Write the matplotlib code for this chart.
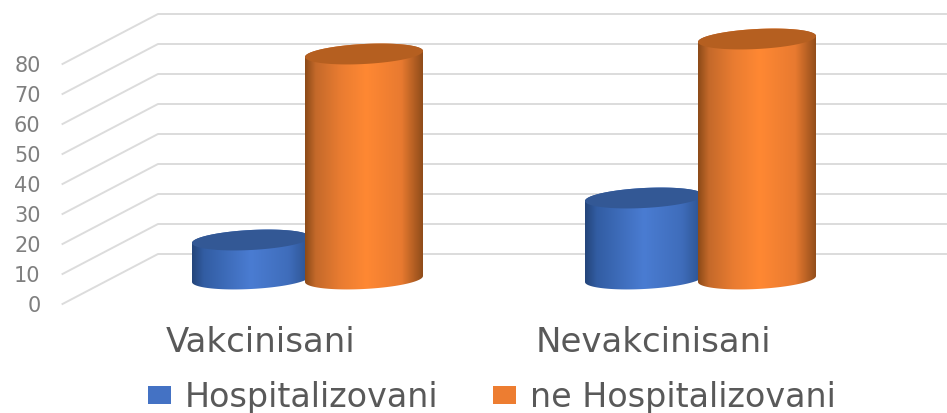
import numpy as np
import matplotlib
matplotlib.use("Agg")
import matplotlib.pyplot as plt
from matplotlib.patches import Patch, PathPatch
from matplotlib.path import Path

# ---------- DATA ----------
categories = ["Vakcinisani", "Nevakcinisani"]
hospitalizovani = [13, 27]
ne_hospitalizovani = [75, 80]
series_names = ["Hospitalizovani", "ne Hospitalizovani"]
y_ticks = [0, 10, 20, 30, 40, 50, 60, 70, 80]

# ---------- SETTINGS ----------
W, H = 947, 414
PX_X = 393.0       # pixels per category step
PX_Y = 3.0         # pixels per value unit
X0_PX = 307.5      # pixel of first category
Y0_PX = 280.0      # pixel of value 0 on the bar base

BAR_OFFSET = 56.5 / PX_X
BAR_A = 59.0 / PX_X    # half width
BAR_B = 10.0 / PX_Y    # ellipse half height
BAR_SHEAR = 3.0 / PX_Y # ellipse tilt

FRONT_X = (62.5 - X0_PX) / PX_X
BACK_X = (158.0 - X0_PX) / PX_X
RIGHT_X = (946.0 - X0_PX) / PX_X
FRONT_DY = -25.0 / PX_Y
BACK_DY = 25.0 / PX_Y

BLUE_STOPS = [(0.0, "#24457a"), (0.1, "#325da3"), (0.5, "#4a7cd2"), (0.82, "#3f6dbb"), (1.0, "#2c5290")]
ORANGE_STOPS = [(0.0, "#8c4a18"), (0.09, "#c4692a"), (0.3, "#e97c31"), (0.52, "#ff8833"), (0.82, "#e87a30"), (1.0, "#8f4c1a")]
BLUE_CAP = "#335895"
ORANGE_CAP = "#b55f20"
BLUE_KEY = "#4472c4"
ORANGE_KEY = "#ed7d31"


def make_gradient(stops):
    pos = [s[0] for s in stops]
    rgb = np.array([matplotlib.colors.to_rgb(s[1]) for s in stops])
    t = np.linspace(0, 1, 256)
    return np.stack([np.interp(t, pos, rgb[:, i]) for i in range(3)], axis=-1)[np.newaxis, :, :]


def ellipse(xc, yc, t):
    return xc + BAR_A * np.cos(t), yc + BAR_SHEAR * np.cos(t) + BAR_B * np.sin(t)


def draw_cylinder(ax, xc, value, stops, cap_color, z):
    # body = lower half of base ellipse + upper half of top ellipse
    bx, by = ellipse(xc, 0, np.linspace(np.pi, 2 * np.pi, 60))
    tx, ty = ellipse(xc, value, np.linspace(0, np.pi, 60))
    verts = np.column_stack([np.r_[bx, tx], np.r_[by, ty]])
    verts = np.vstack([verts, verts[0]])
    body = PathPatch(Path(verts, closed=True), facecolor="none", edgecolor="none",
                     transform=ax.transData)
    ax.add_patch(body)
    img = ax.imshow(make_gradient(stops), aspect="auto", interpolation="bilinear",
                    extent=(xc - BAR_A, xc + BAR_A, -10, value + 10), zorder=z)
    img.set_clip_path(body)

    cx, cy = ellipse(xc, value, np.linspace(0, 2 * np.pi, 120))
    ax.fill(cx, cy, color=cap_color, lw=0, zorder=z + 0.1)


fig = plt.figure(figsize=(W / 100, H / 100), dpi=100)
ax = fig.add_axes([0, 0, 1, 1])

# gridlines: floor/side wall part + back wall part
for v in y_ticks:
    ax.plot([FRONT_X, BACK_X, RIGHT_X], [v + FRONT_DY, v + BACK_DY, v + BACK_DY],
            color="#dcdcdc", lw=1.4, solid_joinstyle="miter", zorder=1)
    ax.text(FRONT_X - 22.0 / PX_X, v + FRONT_DY - 0.2, str(v), ha="right", va="center",
            fontsize=15, color="#7f7f7f", family="DejaVu Sans")

for i in range(len(categories)):
    draw_cylinder(ax, i - BAR_OFFSET, hospitalizovani[i], BLUE_STOPS, BLUE_CAP, 3 + i)
    draw_cylinder(ax, i + BAR_OFFSET, ne_hospitalizovani[i], ORANGE_STOPS, ORANGE_CAP, 3.5 + i)
    ax.text(i - 47.0 / PX_X, -20.8, categories[i], ha="center", va="center",
            fontsize=24.5, color="#595959", family="DejaVu Sans")

ax.set_xlim(-X0_PX / PX_X, (W - X0_PX) / PX_X)
ax.set_ylim((Y0_PX - H) / PX_Y, Y0_PX / PX_Y)
ax.axis("off")

handles = [Patch(facecolor=BLUE_KEY), Patch(facecolor=ORANGE_KEY)]
leg = fig.legend(handles, series_names, loc="center", bbox_to_anchor=(492 / W, 1 - 398 / H),
                 ncol=2, frameon=False, handlelength=0.68, handleheight=0.45,
                 handletextpad=0.42, columnspacing=1.65, borderpad=0, borderaxespad=0,
                 prop={"family": "DejaVu Sans", "size": 24})
for t in leg.get_texts():
    t.set_color("#595959")

fig.savefig("out.png", dpi=100)
